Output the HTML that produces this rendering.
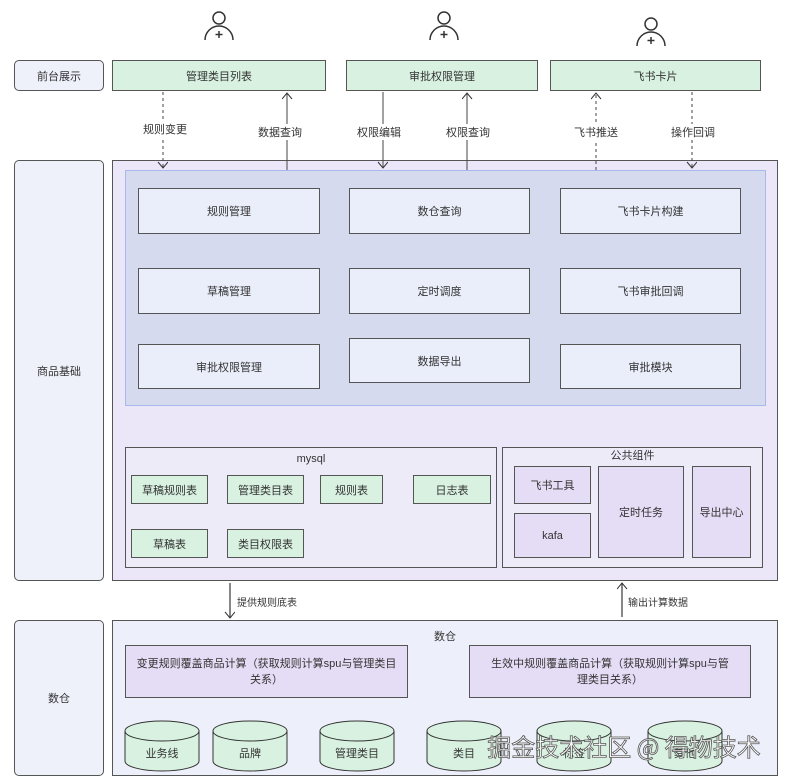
<!DOCTYPE html>
<html><head><meta charset="utf-8"><style>
body{margin:0;width:790px;height:782px;background:#fff;position:relative;font-family:"Liberation Sans","Noto Sans CJK SC",sans-serif;font-size:11px;color:#333;overflow:hidden}
.b{position:absolute;box-sizing:border-box;border:1px solid #555;display:flex;align-items:center;justify-content:center;text-align:center}
.r{border-radius:5px;background:#eef0fa}
.g{background:#d8f1e0}
.w{background:#eaeefa}
.p{background:#e5dcf5}
.t{position:absolute;font-size:11px;background:#fff;padding:0 2px}
</style></head><body>
<svg width="790" height="782" style="position:absolute;left:0;top:0;z-index:0">
<g fill="none" stroke="#333" stroke-width="1.5">
<circle cx="219" cy="18" r="6"/><path d="M205,40 A14,14 0 0 1 233,40"/><path d="M219,31v7M215.5,34.5h7"/>
<circle cx="444" cy="18" r="6"/><path d="M430,40 A14,14 0 0 1 458,40"/><path d="M444,31v7M440.5,34.5h7"/>
<circle cx="651" cy="24" r="6"/><path d="M637,46 A14,14 0 0 1 665,46"/><path d="M651,37v7M647.5,40.5h7"/>
</g>
</svg>
<div class="b r" style="left:14px;top:60px;width:90px;height:31px">前台展示</div>
<div class="b r" style="left:14px;top:160px;width:90px;height:421px">商品基础</div>
<div class="b r" style="left:14px;top:620px;width:90px;height:156px">数仓</div>
<div class="b g" style="left:112px;top:60px;width:214px;height:31px">管理类目列表</div>
<div class="b g" style="left:346px;top:60px;width:192px;height:31px">审批权限管理</div>
<div class="b g" style="left:550px;top:60px;width:211px;height:31px">飞书卡片</div>
<div class="b" style="left:112px;top:160px;width:666px;height:421px;background:#ece7f8"></div>
<div class="b" style="left:125px;top:170px;width:641px;height:236px;background:#d5daee;border-color:#a8b8ec"></div>
<div class="b w" style="left:138px;top:188px;width:182px;height:46px">规则管理</div>
<div class="b w" style="left:349px;top:188px;width:181px;height:46px">数仓查询</div>
<div class="b w" style="left:560px;top:188px;width:181px;height:46px">飞书卡片构建</div>
<div class="b w" style="left:138px;top:268px;width:182px;height:46px">草稿管理</div>
<div class="b w" style="left:349px;top:268px;width:181px;height:46px">定时调度</div>
<div class="b w" style="left:560px;top:268px;width:181px;height:46px">飞书审批回调</div>
<div class="b w" style="left:138px;top:344px;width:182px;height:45px">审批权限管理</div>
<div class="b w" style="left:349px;top:338px;width:181px;height:45px">数据导出</div>
<div class="b w" style="left:560px;top:344px;width:181px;height:45px">审批模块</div>
<div class="b" style="left:125px;top:447px;width:372px;height:121px;background:#eeebf9;align-items:flex-start;padding-top:5px">mysql</div>
<div class="b g" style="left:131px;top:475px;width:77px;height:29px">草稿规则表</div>
<div class="b g" style="left:227px;top:475px;width:77px;height:29px">管理类目表</div>
<div class="b g" style="left:320px;top:475px;width:63px;height:29px">规则表</div>
<div class="b g" style="left:413px;top:475px;width:78px;height:29px">日志表</div>
<div class="b g" style="left:131px;top:529px;width:77px;height:29px">草稿表</div>
<div class="b g" style="left:227px;top:529px;width:77px;height:29px">类目权限表</div>
<div class="b" style="left:502px;top:447px;width:261px;height:121px;background:#eeebf9;align-items:flex-start;padding-top:2px;line-height:13px">公共组件</div>
<div class="b p" style="left:514px;top:466px;width:77px;height:38px">飞书工具</div>
<div class="b p" style="left:514px;top:513px;width:77px;height:45px">kafa</div>
<div class="b p" style="left:598px;top:466px;width:86px;height:92px">定时任务</div>
<div class="b p" style="left:692px;top:466px;width:59px;height:92px">导出中心</div>
<div class="b" style="left:112px;top:620px;width:666px;height:156px;background:#edf0fa;align-items:flex-start;padding-top:7px">数仓</div>
<div class="b p" style="left:125px;top:645px;width:283px;height:53px;line-height:16px;padding:0 6px">变更规则覆盖商品计算（获取规则计算spu与管理类目关系）</div>
<div class="b p" style="left:469px;top:645px;width:282px;height:53px;line-height:16px;padding:0 20px">生效中规则覆盖商品计算（获取规则计算spu与管理类目关系）</div>
<svg width="790" height="782" style="position:absolute;left:0;top:0">
<defs><marker id="m" markerUnits="userSpaceOnUse" markerWidth="12" markerHeight="12" refX="10" refY="5" orient="auto"><path d="M4,0 L10,5 L4,10" fill="none" stroke="#333" stroke-width="1"/></marker></defs>
<g stroke="#444" stroke-width="1" fill="none">
<path d="M163,92V168" stroke-dasharray="3,3" marker-end="url(#m)"/>
<path d="M287,170V93" marker-end="url(#m)"/>
<path d="M383,92V168" marker-end="url(#m)"/>
<path d="M467,170V93" marker-end="url(#m)"/>
<path d="M596,170V93" stroke-dasharray="3,3" marker-end="url(#m)"/>
<path d="M692,92V168" stroke-dasharray="3,3" marker-end="url(#m)"/>
<path d="M230,583V618" stroke-width="1.3" marker-end="url(#m)"/>
<path d="M622,617V583" stroke-width="1.3" marker-end="url(#m)"/>
</g>
<g stroke="#333" fill="#d8f1e0">
<path d="M125,731 v30 a37,10 0 0 0 74,0 v-30"/><ellipse cx="162" cy="731" rx="37" ry="10"/>
<path d="M213,731 v30 a37,10 0 0 0 74,0 v-30"/><ellipse cx="250" cy="731" rx="37" ry="10"/>
<path d="M320,731 v30 a37,10 0 0 0 74,0 v-30"/><ellipse cx="357" cy="731" rx="37" ry="10"/>
<path d="M427,731 v30 a37,10 0 0 0 74,0 v-30"/><ellipse cx="464" cy="731" rx="37" ry="10"/>
<path d="M537,731 v30 a37,10 0 0 0 74,0 v-30"/><ellipse cx="574" cy="731" rx="37" ry="10"/>
<path d="M648,731 v30 a37,10 0 0 0 74,0 v-30"/><ellipse cx="685" cy="731" rx="37" ry="10"/>
</g>
<g font-size="11" fill="#333" text-anchor="middle" font-family="Liberation Sans,Noto Sans CJK SC,sans-serif">
<text x="162" y="757">业务线</text><text x="250" y="757">品牌</text><text x="357" y="757">管理类目</text><text x="464" y="757">类目</text><text x="574" y="757">标签</text><text x="685" y="757">其他</text>
</g>
<text x="624" y="756" text-anchor="middle" font-size="24" fill="#fff" stroke="#555" stroke-width="0.8" font-family="Noto Sans CJK SC,sans-serif">掘金技术社区 @ 得物技术</text>
</svg>
<div class="t" style="left:141px;top:121px">规则变更</div>
<div class="t" style="left:256px;top:124px">数据查询</div>
<div class="t" style="left:355px;top:124px">权限编辑</div>
<div class="t" style="left:444px;top:124px">权限查询</div>
<div class="t" style="left:572px;top:124px">飞书推送</div>
<div class="t" style="left:669px;top:124px">操作回调</div>
<div class="t" style="left:235px;top:594px;font-size:10px;background:none">提供规则底表</div>
<div class="t" style="left:626px;top:594px;font-size:10px;background:none">输出计算数据</div>
</body></html>
